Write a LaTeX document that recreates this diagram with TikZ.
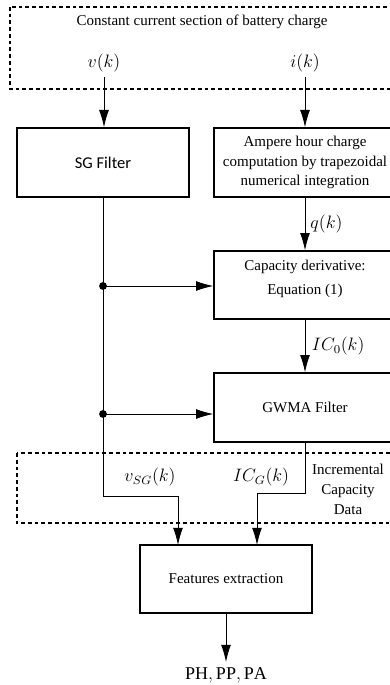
\documentclass[tikz,border=0pt]{standalone}
\usepackage{fontspec}
\setmainfont{Liberation Serif}
\newfontfamily\sgfont{Carlito}
\usetikzlibrary{arrows.meta}
\tikzset{
 block/.style={draw,line width=1pt,inner sep=0pt,align=center},
 wire/.style={line width=0.6pt},
 arr/.style={wire,-{Latex[length=11.5pt,width=6.6pt]}},
 region/.style={line width=0.8pt,dash pattern=on 2.5pt off 2pt},
 sig/.style={font=\large}
}
\begin{document}
\begin{tikzpicture}[x=0.6667pt,y=-0.6667pt]
\useasboundingbox (0,0) rectangle (389,685);
%dashed regions
\draw[region](10,7)rectangle(410,89);
\draw[region](17,453)rectangle(410,523);
%texts and signals
\node (cc) at (202,22){Constant current section of battery charge};
\node[sig] (vk) at (104,63){$v(k)$};
\node[sig] (ik) at (305,63){$i(k)$};
%blocks
\node[block,minimum width=114.7pt,minimum height=46pt] (sg) at (103,162.5){\sgfont\fontsize{11}{13}\selectfont SG Filter};
\node[block,minimum width=121.3pt,minimum height=46pt] (ah) at (305,162.5){Ampere hour charge\\[1pt] computation by trapezoidal\\[1pt] numerical integration};
\node[block,minimum width=121.3pt,minimum height=45.3pt,label={[align=center,yshift=4pt]center:Capacity derivative:\\[4pt]Equation (1)}] (cap) at (305,285){};
\node[block,minimum width=121.3pt,minimum height=46pt] (gw) at (305,407.5){GWMA Filter};
\node[block,minimum width=114.7pt,minimum height=45.3pt] (fe) at (226,579){Features extraction};
\node[sig] (out) at (226,675){$\mathrm{PH},\mathrm{PP},\mathrm{PA}$};
\node[sig] (vsg) at (150,477){$v_{SG}(k)$};
\node[sig] (icg) at (261,477){$IC_G(k)$};
\node[align=center] (icd) at (348,489){Incremental\\[1.3pt] Capacity\\[1.3pt] Data};
%branch points
\coordinate (d1) at (103,286);
\coordinate (d2) at (103,414);
\coordinate (vbend) at (103,496);
\coordinate (vin) at (178,545);
\coordinate (icbend) at (305,493);
\coordinate (icin) at (257,545);
%connectors
\draw[arr](vk)--(vk |- sg.north);
\draw[arr](ik)--(ik |- ah.north);
\draw[arr](ah)--node[sig,right]{$q(k)$}(cap);
\draw[arr](cap)--node[sig,right,xshift=1pt]{$IC_0(k)$}(gw);
\draw[wire](sg.south)--(vbend);
\draw[arr](vbend)-|(vin);
\draw[arr](gw.south)--(icbend)-|(icin);
\draw[arr](d1)--(d1 -| cap.west);
\draw[arr](d2)--(d2 -| gw.west);
\fill(d1)circle(2.6pt);
\fill(d2)circle(2.6pt);
\draw[arr](fe)--(out);
\end{tikzpicture}
\end{document}
